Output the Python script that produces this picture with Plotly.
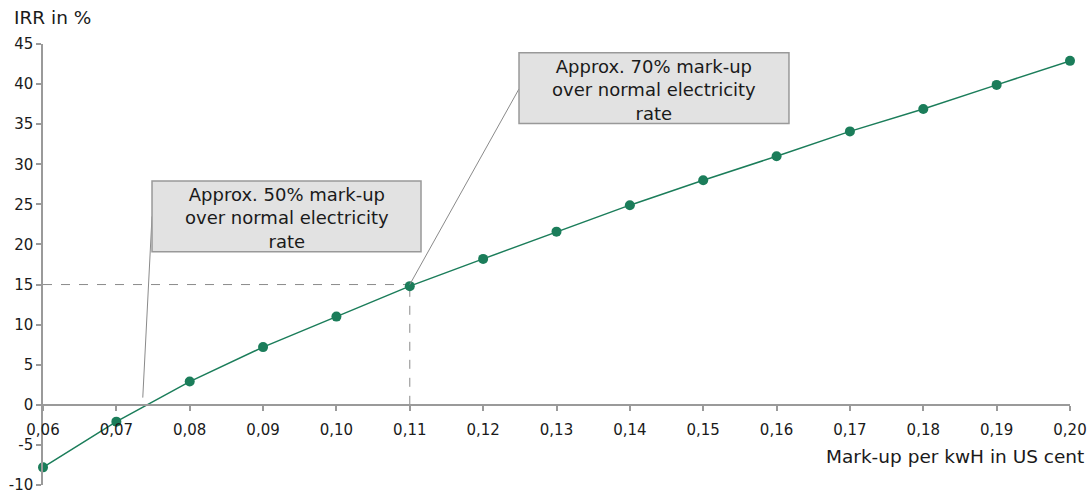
import plotly.graph_objects as go

# ---- data ----
markup = [0.06, 0.07, 0.08, 0.09, 0.10, 0.11, 0.12, 0.13, 0.14, 0.15, 0.16, 0.17, 0.18, 0.19, 0.20]
irr = [-7.8, -2.1, 2.9, 7.2, 11.0, 14.8, 18.2, 21.6, 24.9, 28.0, 31.0, 34.1, 36.9, 39.9, 42.9]
x_tickvals = markup
x_ticktext = ["0,06", "0,07", "0,08", "0,09", "0,10", "0,11", "0,12", "0,13", "0,14",
              "0,15", "0,16", "0,17", "0,18", "0,19", "0,20"]
y_tickvals = [-10, -5, 0, 5, 10, 15, 20, 25, 30, 35, 40, 45]
y_ticktext = ["-10", "-5", "0", "5", "10", "15", "20", "25", "30", "35", "40", "45"]
target_irr = 15
target_markup = 0.11
callout_texts = ["Approx. 50% mark-up<br>over normal electricity<br>rate",
                 "Approx. 70% mark-up<br>over normal electricity<br>rate"]
y_title = "IRR in %"
x_title = "Mark-up per kwH in US cent"

# ---- styling / layout helpers ----
FONT = "DejaVu Sans"
GREEN = "#1b7d5a"
AXIS = "#9a9a9a"
X_RANGE = [0.06, 0.20]
Y_RANGE = [-10, 45]

# callout boxes (x0, x1, y0, y1) in data units, and leader line (from, to)
boxes = [
    dict(x0=0.07486, x1=0.11153, y0=19.1, y1=27.9),
    dict(x0=0.12489, x1=0.16169, y0=35.1, y1=43.9),
]
leaders = [
    ((0.07486, 23.5), (0.0736, 0.9)),
    ((0.12489, 39.4), (target_markup, target_irr)),
]

fig = go.Figure()
fig.add_trace(go.Scatter(
    x=markup, y=irr, mode="lines+markers",
    line=dict(color=GREEN, width=1.5),
    marker=dict(color=GREEN, size=10),
    cliponaxis=False, showlegend=False, hoverinfo="skip",
))

shapes = []
# dashed reference lines
shapes.append(dict(type="line", xref="x", yref="y", x0=X_RANGE[0], x1=target_markup,
                   y0=target_irr, y1=target_irr, line=dict(color="#8a8a8a", width=1, dash="dash"), layer="below"))
shapes.append(dict(type="line", xref="x", yref="y", x0=target_markup, x1=target_markup,
                   y0=0, y1=target_irr, line=dict(color="#8a8a8a", width=1, dash="dash"), layer="below"))
# leader lines
for (a, b) in leaders:
    shapes.append(dict(type="line", xref="x", yref="y", x0=a[0], y0=a[1], x1=b[0], y1=b[1],
                       line=dict(color="#8a8a8a", width=1)))
# boxes
for b in boxes:
    shapes.append(dict(type="rect", xref="x", yref="y", x0=b["x0"], x1=b["x1"], y0=b["y0"], y1=b["y1"],
                       fillcolor="#e2e2e2", line=dict(color="#999999", width=1.5)))

annotations = []
for b, t in zip(boxes, callout_texts):
    annotations.append(dict(x=(b["x0"] + b["x1"]) / 2, y=(b["y0"] + b["y1"]) / 2 - 0.2,
                            xref="x", yref="y", text=t, showarrow=False,
                            font=dict(family=FONT, size=18, color="#1a1a1a"),
                            xanchor="center", yanchor="middle", align="center"))
annotations.append(dict(x=-0.0302, y=1.059, xref="paper", yref="paper", text=y_title,
                        showarrow=False, xanchor="left", yanchor="middle",
                        font=dict(family=FONT, size=18.5, color="#1a1a1a")))
annotations.append(dict(x=1.0156, y=0.0635, xref="paper", yref="paper", text=x_title,
                        showarrow=False, xanchor="right", yanchor="middle",
                        font=dict(family=FONT, size=18.5, color="#1a1a1a")))

fig.update_layout(
    width=1091, height=493,
    margin=dict(l=43, r=21, t=44, b=8, autoexpand=False),
    plot_bgcolor="white", paper_bgcolor="white",
    shapes=shapes, annotations=annotations,
    xaxis=dict(range=X_RANGE, anchor="free", automargin=False,
               position=(0 - Y_RANGE[0]) / (Y_RANGE[1] - Y_RANGE[0]),
               tickmode="array", tickvals=x_tickvals, ticktext=x_ticktext,
               showgrid=False, zeroline=False, showline=True, linecolor=AXIS, linewidth=1.5,
               ticks="outside", ticklen=5, tickcolor=AXIS, tickwidth=1.5,
               ticklabelstandoff=6, ticklabeloverflow="allow",
               tickfont=dict(family=FONT, size=15, color="#1a1a1a")),
    yaxis=dict(range=Y_RANGE, tickmode="array", tickvals=y_tickvals, ticktext=y_ticktext,
               automargin=False, ticklabeloverflow="allow",
               showgrid=False, zeroline=False, showline=True, linecolor=AXIS, linewidth=1.5,
               ticks="outside", ticklen=5, tickcolor=AXIS, tickwidth=1.5,
               tickfont=dict(family=FONT, size=15, color="#1a1a1a")),
)

fig.write_html("out.html")
